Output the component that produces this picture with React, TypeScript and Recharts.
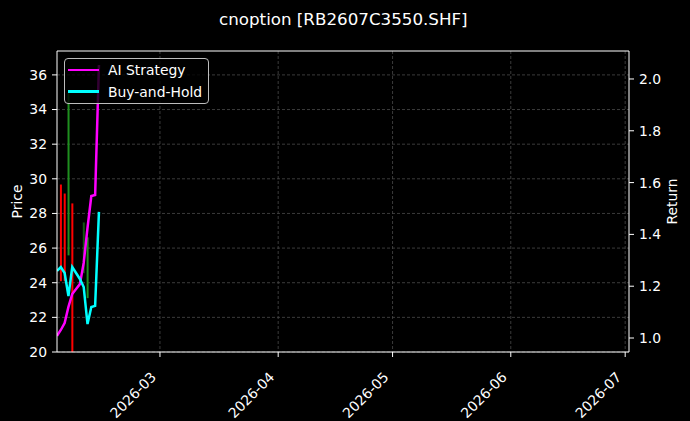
import {
  ComposedChart, Line, Bar, XAxis, YAxis, CartesianGrid, ReferenceLine,
} from 'recharts'

const DATES = [
  '2026-02-02', '2026-02-03', '2026-02-04', '2026-02-05', '2026-02-06', '2026-02-07',
  '2026-02-08', '2026-02-09', '2026-02-10', '2026-02-11', '2026-02-12', '2026-02-13',
]
const AI_STRATEGY = [1.008, 1.031, 1.058, 1.12, 1.17, 1.189, 1.208, 1.29, 1.425, 1.548, 1.552, 2.054]
const BUY_AND_HOLD = [1.259, 1.274, 1.251, 1.162, 1.274, 1.251, 1.228, 1.197, 1.054, 1.12, 1.124, 1.487]

// candles (price axis)
const CANDLE_DATES = ['2026-02-03', '2026-02-04', '2026-02-05', '2026-02-06', '2026-02-09', '2026-02-10']
const CANDLE_HIGH = [29.67, 29.15, 35.0, 28.58, 27.48, 26.62]
const CANDLE_LOW = [24.09, 24.09, 25.58, 20.0, 24.55, 23.11]
const CANDLE_UP = [false, false, true, false, true, true]

const PRICE_TICKS = [20, 22, 24, 26, 28, 30, 32, 34, 36]
const RETURN_TICKS = [1.0, 1.2, 1.4, 1.6, 1.8, 2.0]
const MONTH_TICKS = ['2026-03-01', '2026-04-01', '2026-05-01', '2026-06-01', '2026-07-01']

const PRICE_DOMAIN = [20, 37.38]
const RETURN_DOMAIN = [0.946, 2.108]
const X_DOMAIN = [Date.parse('2026-02-02'), Date.parse('2026-07-02')]

const FONT = '"DejaVu Sans", sans-serif'

const data = DATES.map((d, i) => {
  const ci = CANDLE_DATES.indexOf(d)
  return {
    t: Date.parse(d),
    ai: AI_STRATEGY[i],
    bh: BUY_AND_HOLD[i],
    candle: ci >= 0 ? [CANDLE_LOW[ci], CANDLE_HIGH[ci]] : null,
    up: ci >= 0 ? CANDLE_UP[ci] : null,
    dim: d === '2026-02-09',
  }
})

const fmtMonth = (t: number) => {
  const dt = new Date(t)
  return `${dt.getUTCFullYear()}-${String(dt.getUTCMonth() + 1).padStart(2, '0')}`
}

// eslint-disable-next-line @typescript-eslint/no-explicit-any
const DateTick = ({ x, y, payload }: any) => {
  const ax = x - 3
  const ay = y + 19
  return (
    <text x={ax} y={ay} fill="#fff" fontSize={13.9} fontFamily={FONT} textAnchor="end"
      transform={`rotate(-45, ${ax}, ${ay})`}>
      {fmtMonth(payload.value)}
    </text>
  )
}

// eslint-disable-next-line @typescript-eslint/no-explicit-any
const CandleShape = (props: any) => {
  const { x, y, width, height, payload } = props
  if (height == null || isNaN(height)) return null
  const cx = x + width / 2
  return (
    <rect x={cx - 1} y={y} width={2} height={Math.max(height, 1)}
      fill={payload.up ? '#1f8f1f' : '#ff0000'} opacity={payload.dim ? 0.6 : 1} />
  )
}

// eslint-disable-next-line @typescript-eslint/no-explicit-any
const axisLabel = (text: string, dx: number) => ({ viewBox }: any) => {
  const lx = viewBox.x + dx
  const ly = viewBox.y + viewBox.height / 2
  return (
    <text x={lx} y={ly} fill="#fff" fontSize={13.9} fontFamily={FONT} textAnchor="middle"
      dominantBaseline="central" transform={`rotate(-90, ${lx}, ${ly})`}>
      {text}
    </text>
  )
}

const LEGEND = [
  { name: 'AI Strategy', color: '#ff00ff' },
  { name: 'Buy-and-Hold', color: '#00ffff' },
]

export default function App() {
  const tickStyle = { fill: '#fff', fontSize: 13.9, fontFamily: FONT }
  return (
    <div style={{ position: 'absolute', left: 0, top: 0, width: 690, height: 421, background: '#000', fontFamily: FONT }}>
      <ComposedChart width={690} height={421} data={data} margin={{ top: 51, right: 0, bottom: 0, left: 0 }}>
        <CartesianGrid yAxisId="price" stroke="#4a4a4a" strokeWidth={0.8} strokeDasharray="3 2"
          horizontalValues={PRICE_TICKS} verticalValues={MONTH_TICKS.map((m) => Date.parse(m))} />
        <XAxis dataKey="t" type="number" domain={X_DOMAIN} allowDataOverflow
          ticks={MONTH_TICKS.map((m) => Date.parse(m))} tick={<DateTick />} height={69}
          stroke="#fff" axisLine={{ stroke: '#fff' }} tickLine={{ stroke: '#fff' }} tickSize={5} tickMargin={2}
          interval={0} />
        <YAxis yAxisId="price" orientation="left" domain={PRICE_DOMAIN} allowDataOverflow ticks={PRICE_TICKS}
          width={57} tick={tickStyle} axisLine={{ stroke: '#fff' }} tickLine={{ stroke: '#fff' }}
          tickSize={5} tickMargin={5} interval={0} label={axisLabel('Price', 17)} />
        <YAxis yAxisId="ret" orientation="right" domain={RETURN_DOMAIN} allowDataOverflow ticks={RETURN_TICKS}
          width={61} tick={tickStyle} axisLine={{ stroke: '#fff' }} tickLine={{ stroke: '#fff' }}
          tickSize={5} tickMargin={5} interval={0} tickFormatter={(v: number) => v.toFixed(1)}
          label={axisLabel('Return', 43)} />
        <ReferenceLine yAxisId="price" y={PRICE_DOMAIN[1]} stroke="#fff" strokeWidth={1} />
        <Line yAxisId="ret" dataKey="ai" stroke="#ff00ff" strokeWidth={2.5} dot={false} isAnimationActive={false} />
        <Line yAxisId="ret" dataKey="bh" stroke="#00ffff" strokeWidth={2.5} dot={false} isAnimationActive={false} />
        <Bar yAxisId="price" dataKey="candle" barSize={2} shape={<CandleShape />} isAnimationActive={false} />
      </ComposedChart>

      <div style={{ position: 'absolute', left: 0, width: 686.6, top: 9, textAlign: 'center', color: '#fff', fontSize: 16.7, lineHeight: '20px' }}>
        cnoption [RB2607C3550.SHF]
      </div>

      <div style={{
        position: 'absolute', left: 64, top: 58, width: 143, height: 44, border: '1px solid #bdbdbd',
        borderRadius: 4, background: 'rgba(0,0,0,0.8)',
      }}>
        {LEGEND.map((item, i) => (
          <div key={item.name} style={{ position: 'absolute', left: 3, top: 3 + i * 21.5, height: 16, display: 'flex', alignItems: 'center' }}>
            <div style={{ width: 31, height: 2.5, background: item.color }} />
            <span style={{ marginLeft: 9, color: '#fff', fontSize: 13.9, whiteSpace: 'nowrap' }}>{item.name}</span>
          </div>
        ))}
      </div>
    </div>
  )
}
